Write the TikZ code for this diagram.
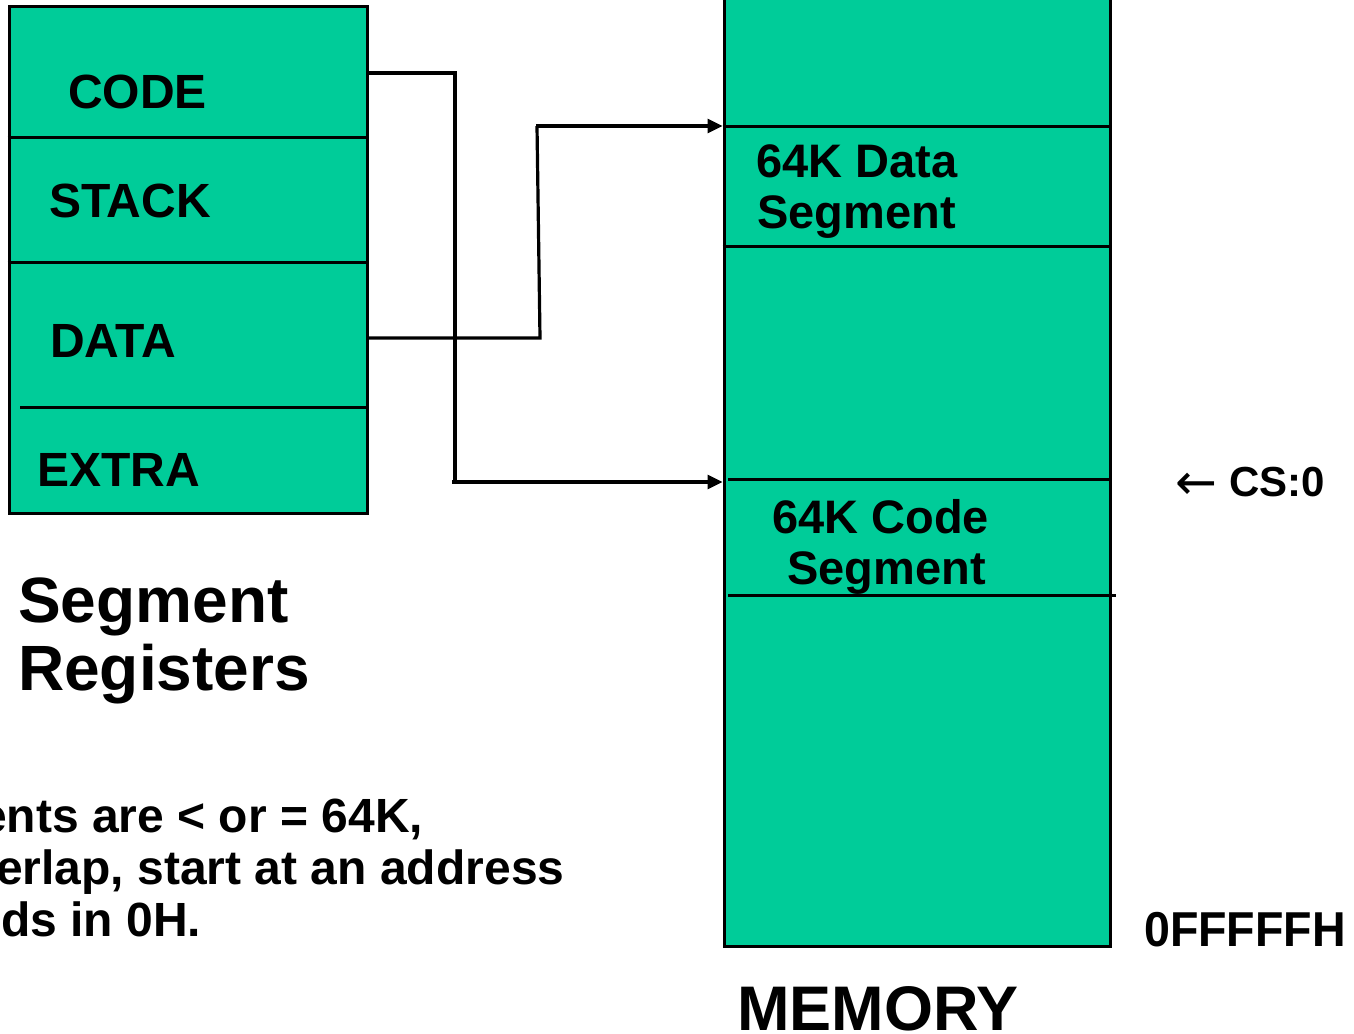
\documentclass[tikz,border=0pt]{standalone}
\usepackage{fontspec}
\setmainfont{Liberation Sans}
\newfontfamily\arrfont{DejaVu Sans}
\usetikzlibrary{arrows.meta}
\definecolor{segfill}{RGB}{0,204,153}
\begin{document}
\begin{tikzpicture}[x=1pt,y=-1pt,
  box/.style={draw=black,line width=3pt,fill=segfill,inner sep=0pt},
  sep/.style={line width=3pt},
  conn/.style={line width=3.2pt},
  arr/.style={line width=3.2pt,-{Triangle[length=15pt,width=14pt]}},
  lbl/.style={anchor=base west,inner sep=0pt,font=\bfseries\fontsize{48}{52}\selectfont},
  seglbl/.style={anchor=base west,inner sep=0pt,font=\bfseries\fontsize{47}{50}\selectfont},
  big/.style={anchor=base west,inner sep=0pt,font=\bfseries\fontsize{64}{68}\selectfont},
  note/.style={anchor=base west,inner sep=0pt,font=\bfseries\fontsize{48}{52}\selectfont}]
\useasboundingbox (0,0) rectangle (1354,1033);
\fill[white] (0,0) rectangle (1354,1033);
% register box
\node[box,minimum width=358pt,minimum height=506pt] (regs) at (188,260) {};
\draw[sep] (regs.west |- 0,137) -- (regs.east |- 0,137);
\draw[sep] (regs.west |- 0,262) -- (regs.east |- 0,262);
\draw[sep] (20,407) -- (regs.east |- 0,407);
\node[lbl] (tcode) at (68,108) {CODE};
\node[lbl] (tstack) at (49,217) {STACK};
\node[lbl] (tdata) at (50,357) {DATA};
\node[lbl] (textra) at (37,486) {EXTRA};
\node[big] (tseg) at (18,622) {Segment};
\node[big] (treg) at (18,690) {Registers};
% memory
\node[box,minimum width=386pt,minimum height=966pt] (mem) at (917,463) {};
\draw[sep] (mem.west |- 0,126) -- (mem.east |- 0,126);
\draw[sep] (mem.west |- 0,246) -- (mem.east |- 0,246);
\draw[sep] (728,479) -- (mem.east |- 0,479);
\draw[sep] (728,595) -- (1116,595);
\coordinate (dataseg) at (mem.west |- 0,126);
\coordinate (codeseg) at (mem.west |- 0,482);
\node[seglbl] (d1) at (756,177) {64K Data};
\node[seglbl] (d2) at (757,228) {Segment};
\node[seglbl] (c1) at (772,533) {64K Code};
\node[seglbl] (c2) at (787,584) {Segment};
\node[anchor=base west,inner sep=0pt,font=\fontsize{50}{54}\selectfont] (csarr) at (1175,499) {\arrfont ←};
\node[anchor=base west,inner sep=0pt,font=\bfseries\fontsize{42}{44}\selectfont] (cs) at (1229,496) {CS:0};
\node[anchor=base west,inner sep=0pt,font=\bfseries\fontsize{49}{52}\selectfont,xscale=0.95] (ffff) at (1144,946) {0FFFFFH};
\node[big,font=\bfseries\fontsize{63}{66}\selectfont] (memlbl) at (737,1030) {MEMORY};
% note
\node[note] (n1) at (-20,832) {ents are < or = 64K,};
\node[note] (n2) at (-4,884) {erlap, start at an address};
\node[note] (n3) at (1,936) {ds in 0H.};
% connectors
\coordinate (codeout) at (regs.east |- 0,73);
\coordinate (dataout) at (regs.east |- 0,338);
\draw[conn] (codeout) -- (455,73) -- (455,482);
\draw[arr] (452,482) -- (codeseg);
\draw[conn] (dataout) -- (540,338) -- (537,126);
\draw[arr] (536,126) -- (dataseg);
\end{tikzpicture}
\end{document}
